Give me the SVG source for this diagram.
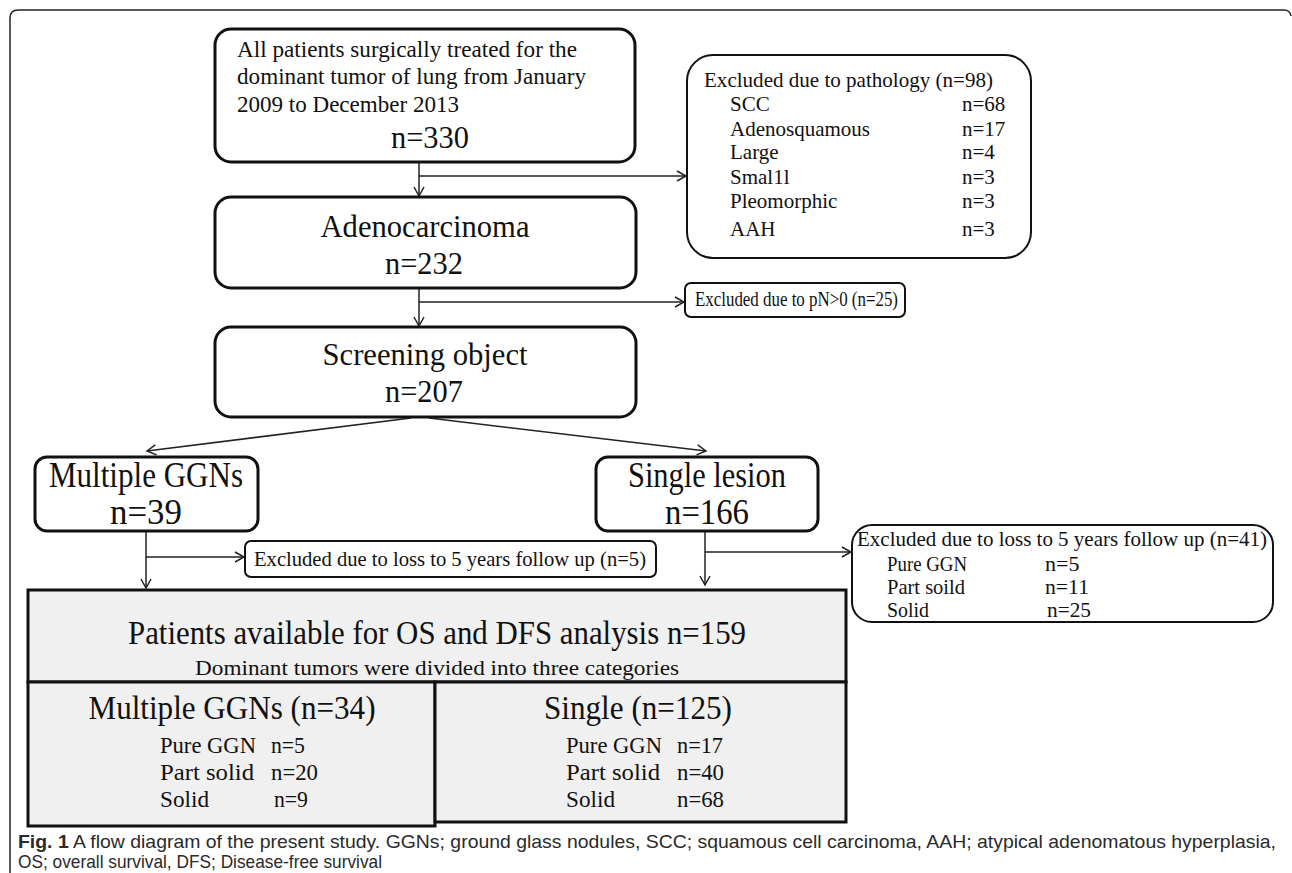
<svg xmlns="http://www.w3.org/2000/svg" width="1292" height="873" viewBox="0 0 1292 873">
<style>
.t{font-family:"Liberation Serif","Times New Roman",serif;fill:#111}
.c{text-anchor:middle}
.box{fill:#fff;stroke:#111;stroke-width:3}
.thin{fill:#fff;stroke:#111;stroke-width:2}
.cell{fill:#f0f0f0;stroke:#111;stroke-width:3}
.conn line{stroke:#222;stroke-width:1.5;fill:none}
.cap{font-family:"Liberation Sans",Arial,sans-serif;fill:#2a2a2a;font-size:19px}
</style>
<defs>
<marker id="a" markerWidth="12" markerHeight="12" refX="10" refY="6" orient="auto" markerUnits="userSpaceOnUse">
<path d="M1,1 L10,6 L1,11" fill="none" stroke="#222" stroke-width="1.5"/>
</marker>
</defs>
<path d="M10,873 L10,18 Q10,10 18,10 L1284,10 Q1290,10 1291,16" fill="none" stroke="#222" stroke-width="1.5"/>

<g class="conn">
<line x1="419" y1="162" x2="419" y2="196" marker-end="url(#a)"/>
<line x1="419" y1="176" x2="686" y2="176" marker-end="url(#a)"/>
<line x1="419" y1="288" x2="419" y2="326" marker-end="url(#a)"/>
<line x1="419" y1="302" x2="684" y2="302" marker-end="url(#a)"/>
<line x1="411" y1="418" x2="147" y2="451" marker-end="url(#a)"/>
<line x1="429" y1="418" x2="706" y2="451" marker-end="url(#a)"/>
<line x1="146" y1="531" x2="146" y2="588" marker-end="url(#a)"/>
<line x1="146" y1="557" x2="244" y2="557" marker-end="url(#a)"/>
<line x1="705" y1="531" x2="705" y2="585" marker-end="url(#a)"/>
<line x1="705" y1="552" x2="851" y2="552" marker-end="url(#a)"/>
</g>

<g id="n-all">
<rect class="box" x="215" y="29" width="420" height="133" rx="16"/>
<text class="t" x="237" y="57" font-size="23" textLength="340" lengthAdjust="spacingAndGlyphs">All patients surgically treated for the</text>
<text class="t" x="237" y="84" font-size="23" textLength="349" lengthAdjust="spacingAndGlyphs">dominant tumor of lung from January</text>
<text class="t" x="237" y="112" font-size="23" textLength="222" lengthAdjust="spacingAndGlyphs">2009 to December 2013</text>
<text class="t c" x="430" y="148" font-size="32" textLength="78" lengthAdjust="spacingAndGlyphs">n=330</text>
</g>

<g id="n-path">
<rect class="thin" x="687" y="55" width="344" height="203" rx="26"/>
<text class="t" x="704" y="87" font-size="21" textLength="289" lengthAdjust="spacingAndGlyphs">Excluded due to pathology  (n=98)</text>
<g class="t" font-size="21">
<text x="730" y="111">SCC</text><text x="962" y="111">n=68</text>
<text x="730" y="136">Adenosquamous</text><text x="962" y="136">n=17</text>
<text x="730" y="159">Large</text><text x="962" y="159">n=4</text>
<text x="730" y="184">Smal1l</text><text x="962" y="184">n=3</text>
<text x="730" y="208">Pleomorphic</text><text x="962" y="208">n=3</text>
<text x="730" y="236">AAH</text><text x="962" y="236">n=3</text>
</g>
</g>

<g id="n-adeno">
<rect class="box" x="215" y="197" width="421" height="91" rx="16"/>
<text class="t c" x="425" y="237" font-size="32" textLength="209" lengthAdjust="spacingAndGlyphs">Adenocarcinoma</text>
<text class="t c" x="424" y="274" font-size="32" textLength="78" lengthAdjust="spacingAndGlyphs">n=232</text>
</g>

<g id="n-pn">
<rect class="thin" x="685" y="283" width="220" height="34" rx="6"/>
<text class="t" x="695" y="306" font-size="20" textLength="203" lengthAdjust="spacingAndGlyphs">Excluded due to pN&gt;0 (n=25)</text>
</g>

<g id="n-screen">
<rect class="box" x="215" y="327" width="421" height="90" rx="16"/>
<text class="t c" x="425" y="365" font-size="32" textLength="205" lengthAdjust="spacingAndGlyphs">Screening object</text>
<text class="t c" x="424" y="402" font-size="32" textLength="78" lengthAdjust="spacingAndGlyphs">n=207</text>
</g>

<g id="n-multi">
<rect class="box" x="35" y="457" width="223" height="74" rx="12"/>
<text class="t c" x="146" y="487" font-size="35" textLength="194" lengthAdjust="spacingAndGlyphs">Multiple GGNs</text>
<text class="t c" x="146" y="524" font-size="35" textLength="72" lengthAdjust="spacingAndGlyphs">n=39</text>
</g>

<g id="n-single">
<rect class="box" x="596" y="457" width="222" height="74" rx="12"/>
<text class="t c" x="707" y="487" font-size="35" textLength="158" lengthAdjust="spacingAndGlyphs">Single lesion</text>
<text class="t c" x="707" y="524" font-size="35" textLength="84" lengthAdjust="spacingAndGlyphs">n=166</text>
</g>

<g id="n-loss5">
<rect class="thin" x="245" y="541" width="411" height="36" rx="6"/>
<text class="t c" x="450" y="566" font-size="22" textLength="392" lengthAdjust="spacingAndGlyphs">Excluded due to loss to 5 years follow up (n=5)</text>
</g>

<g id="n-loss41">
<rect class="thin" x="852" y="525" width="421" height="97" rx="20"/>
<text class="t" x="857" y="546" font-size="22" textLength="410" lengthAdjust="spacingAndGlyphs">Excluded due to loss to 5 years follow up (n=41)</text>
<g class="t" font-size="22">
<text x="887" y="571" textLength="80" lengthAdjust="spacingAndGlyphs">Pure GGN</text><text x="1045" y="571">n=5</text>
<text x="887" y="594" textLength="78" lengthAdjust="spacingAndGlyphs">Part soild</text><text x="1045" y="594" textLength="44" lengthAdjust="spacingAndGlyphs">n=11</text>
<text x="887" y="617" textLength="42" lengthAdjust="spacingAndGlyphs">Solid</text><text x="1047" y="617" textLength="44" lengthAdjust="spacingAndGlyphs">n=25</text>
</g>
</g>

<g id="n-table">
<rect class="cell" x="28" y="590" width="818" height="92"/>
<rect class="cell" x="28" y="682" width="407" height="144"/>
<rect class="cell" x="435" y="682" width="411" height="140"/>
<text class="t c" x="437" y="644" font-size="33" textLength="618" lengthAdjust="spacingAndGlyphs">Patients available for OS and DFS analysis n=159</text>
<text class="t c" x="437" y="675" font-size="22" textLength="484" lengthAdjust="spacingAndGlyphs">Dominant tumors were divided into three categories</text>
<text class="t c" x="232" y="719" font-size="33" textLength="287" lengthAdjust="spacingAndGlyphs">Multiple GGNs (n=34)</text>
<text class="t c" x="638" y="719" font-size="33" textLength="188" lengthAdjust="spacingAndGlyphs">Single (n=125)</text>
<g class="t" font-size="23">
<text x="160" y="753" textLength="96" lengthAdjust="spacingAndGlyphs">Pure GGN</text><text x="271" y="753" textLength="34" lengthAdjust="spacingAndGlyphs">n=5</text>
<text x="160" y="780" textLength="94" lengthAdjust="spacingAndGlyphs">Part  solid</text><text x="271" y="780" textLength="47" lengthAdjust="spacingAndGlyphs">n=20</text>
<text x="160" y="807" textLength="49" lengthAdjust="spacingAndGlyphs">Solid</text><text x="274" y="807" textLength="34" lengthAdjust="spacingAndGlyphs">n=9</text>
<text x="566" y="753" textLength="96" lengthAdjust="spacingAndGlyphs">Pure GGN</text><text x="677" y="753" textLength="46" lengthAdjust="spacingAndGlyphs">n=17</text>
<text x="566" y="780" textLength="94" lengthAdjust="spacingAndGlyphs">Part  solid</text><text x="677" y="780" textLength="47" lengthAdjust="spacingAndGlyphs">n=40</text>
<text x="566" y="807" textLength="49" lengthAdjust="spacingAndGlyphs">Solid</text><text x="677" y="807" textLength="47" lengthAdjust="spacingAndGlyphs">n=68</text>
</g>
</g>

<text class="cap" x="18" y="848" textLength="1258" lengthAdjust="spacingAndGlyphs"><tspan font-weight="bold">Fig. 1</tspan> A flow diagram of the present study. GGNs; ground glass nodules, SCC; squamous cell carcinoma, AAH; atypical adenomatous hyperplasia,</text>
<text class="cap" x="18" y="868" textLength="364" lengthAdjust="spacingAndGlyphs">OS; overall survival, DFS; Disease-free survival</text>
</svg>
